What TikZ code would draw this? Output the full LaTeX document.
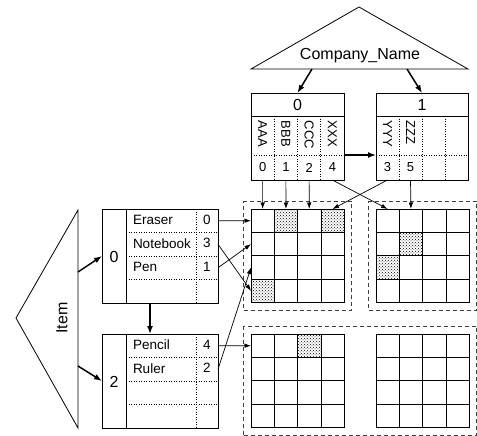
\documentclass[tikz,border=0pt]{standalone}
\usepackage{fontspec}
\setmainfont{Liberation Sans}
\usetikzlibrary{arrows.meta,patterns,fit,calc}

\begin{document}
\begin{tikzpicture}[x=1pt,y=-1pt,
  every node/.style={inner sep=0pt,outer sep=0pt},
  outline/.style={line width=0.8pt},
  cell/.style={draw,line width=0.8pt,minimum width=23.3pt,minimum height=23.4pt},
  hot/.style={draw,line width=0.8pt,pattern=crosshatch dots,pattern color=black},
  box/.style={draw,line width=0.8pt},
  sep/.style={line width=0.7pt,dash pattern=on 1.2pt off 1.3pt},
  group/.style={draw=black!75,line width=0.8pt,dash pattern=on 4pt off 3pt,inner xsep=7.5pt,inner ysep=7.5pt},
  ptr/.style={line width=0.7pt,-{Latex[length=6.5pt,width=4.5pt]}},
  link/.style={line width=1.5pt,-{Latex[length=8pt,width=6pt]}},
  big/.style={font=\fontsize{16}{18}\selectfont},
  lbl/.style={font=\fontsize{13.5}{15}\selectfont},
  sml/.style={font=\fontsize{13}{15}\selectfont},
]
\useasboundingbox (0,0) rectangle (477,436);

% ---------- the four 4x4 blocks ----------
\foreach \g/\gx/\gy in {1/251/209,2/376/209,3/251/334,4/376/334}{
  \foreach \r in {0,...,3}{
    \foreach \c in {0,...,3}{
      \node[cell] (g\g-\r-\c) at ({\gx+11.65+23.3*\c},{\gy+11.7+23.4*\r}) {};
    }
  }
}
% occupied cells
\foreach \cellname in {g1-0-1,g1-0-3,g1-3-0,g2-1-1,g2-2-0,g3-0-2}
  \draw[hot] (\cellname.north west) rectangle (\cellname.south east);

% dashed groupings
\node[group,fit=(g1-0-0)(g1-3-3)] (blk1) {};
\node[group,fit=(g2-0-0)(g2-3-3)] (blk2) {};
\node[group,fit=(g3-0-0)(g4-3-3)] (blk3) {};

% ---------- Company_Name tree ----------
\draw[outline] (359,7) -- (468,69) -- (251,69) -- cycle;
\node[big] (cname) at (360,56) {Company\_Name};
\coordinate (cn-l) at (312,69);
\coordinate (cn-r) at (407,69);

% left page
\node[box,big,minimum width=93pt,minimum height=23pt] (cb0-h) at (297.5,104.5) {0};
\foreach \c/\k/\v in {0/AAA/0,1/BBB/1,2/CCC/2,3/XXX/4}{
  \node[minimum width=23.25pt,minimum height=39pt] (cb0-t\c) at ({251+11.625+23.25*\c},135.5) {};
  \node[minimum width=23.25pt,minimum height=25pt,sml] (cb0-n\c) at ({251+11.625+23.25*\c},167.5) {\v};
  \node[sml,rotate=-90,anchor=west] (cb0-k\c) at ($(cb0-t\c.north)+(0,5)$) {\k};
}
\draw[box] (cb0-h.north west) rectangle (cb0-n3.south east);
\draw[sep] (cb0-t0.south west) -- (cb0-t3.south east);
\foreach \c in {0,1,2}
  \draw[sep] (cb0-t\c.north east) -- (cb0-n\c.south east);

% right page
\node[box,big,minimum width=92pt,minimum height=23pt] (cb1-h) at (422,104.5) {1};
\foreach \c/\k/\v in {0/YYY/3,1/ZZZ/5,2//,3//}{
  \node[minimum width=23pt,minimum height=39pt] (cb1-t\c) at ({376+11.5+23*\c},135.5) {};
  \node[minimum width=23pt,minimum height=25pt,sml] (cb1-n\c) at ({376+11.5+23*\c},167.5) {\v};
  \node[sml,rotate=-90,anchor=west] (cb1-k\c) at ($(cb1-t\c.north)+(0,5)$) {\k};
}
\draw[box] (cb1-h.north west) rectangle (cb1-n3.south east);
\draw[sep] (cb1-t0.south west) -- (cb1-t3.south east);
\foreach \c in {0,1,2}
  \draw[sep] (cb1-t\c.north east) -- (cb1-n\c.south east);

\draw[link] (cn-l) -- (cb0-h.north);
\draw[link] (cn-r) -- (cb1-h.north);
\draw[link] (cb0-n3.north east) -- (cb1-n0.north west);

% column pointers
\foreach \c in {0,1,2}
  \draw[ptr] (cb0-n\c.south) -- (g1-0-\c.north);
\draw[ptr] (cb0-n3.south) -- (g2-0-0.north);
\draw[ptr] (cb1-n0.south) -- (g1-0-3.north);
\draw[ptr] (cb1-n1.south) -- (g2-0-1.north);

% ---------- Item tree ----------
\draw[outline] (78,210) -- (16,318) -- (78,428) -- cycle;
\node[big,rotate=90] (iname) at (62,318) {Item};
\coordinate (it-a) at (78,272);
\coordinate (it-b) at (78,366);

\foreach \p/\py/\id in {0/209/0,2/334/2}{
  \node[box,minimum width=116pt,minimum height=94pt] (i\p) at (160,{\py+47}) {};
  \node[big] (i\p-id) at (114,{\py+48}) {\id};
  \foreach \r in {0,...,3}
    \node[minimum width=92pt,minimum height=23.5pt] (i\p-r\r) at (172,{\py+11.75+23.5*\r}) {};
  \draw[box] (i\p-r0.north west) -- (i\p-r3.south west);
  \draw[sep] ($(i\p-r0.north east)+(-22,0)$) -- ($(i\p-r3.south east)+(-22,0)$);
  \foreach \r in {0,1,2}
    \draw[sep] (i\p-r\r.south west) -- (i\p-r\r.south east);
}
\foreach \p/\r/\k/\v in {0/0/Eraser/0,0/1/Notebook/3,0/2/Pen/1,2/0/Pencil/4,2/1/Ruler/2}{
  \node[lbl,anchor=west] (i\p-k\r) at ($(i\p-r\r.west)+(7,-1)$) {\k};
  \node[lbl] (i\p-v\r) at ($(i\p-r\r.east)+(-11,-1)$) {\v};
}

\draw[link] (it-a) -- (i0.west);
\draw[link] (it-b) -- (i2.west);
\coordinate (i0-out) at (150,303);
\draw[link] (i0-out) -- (i0-out |- i2.north);

% row pointers
\draw[ptr] (i0-r0.east) -- (g1-0-0.west);
\draw[ptr] (i0-r1.east) -- (g1-3-0.west);
\draw[ptr] (i0-r2.east) -- (g1-1-0.west);
\draw[ptr] (i2-r0.east) -- (g3-0-0.west);
\draw[ptr] (i2-r1.east) -- (g1-2-0.west);
\end{tikzpicture}
\end{document}
